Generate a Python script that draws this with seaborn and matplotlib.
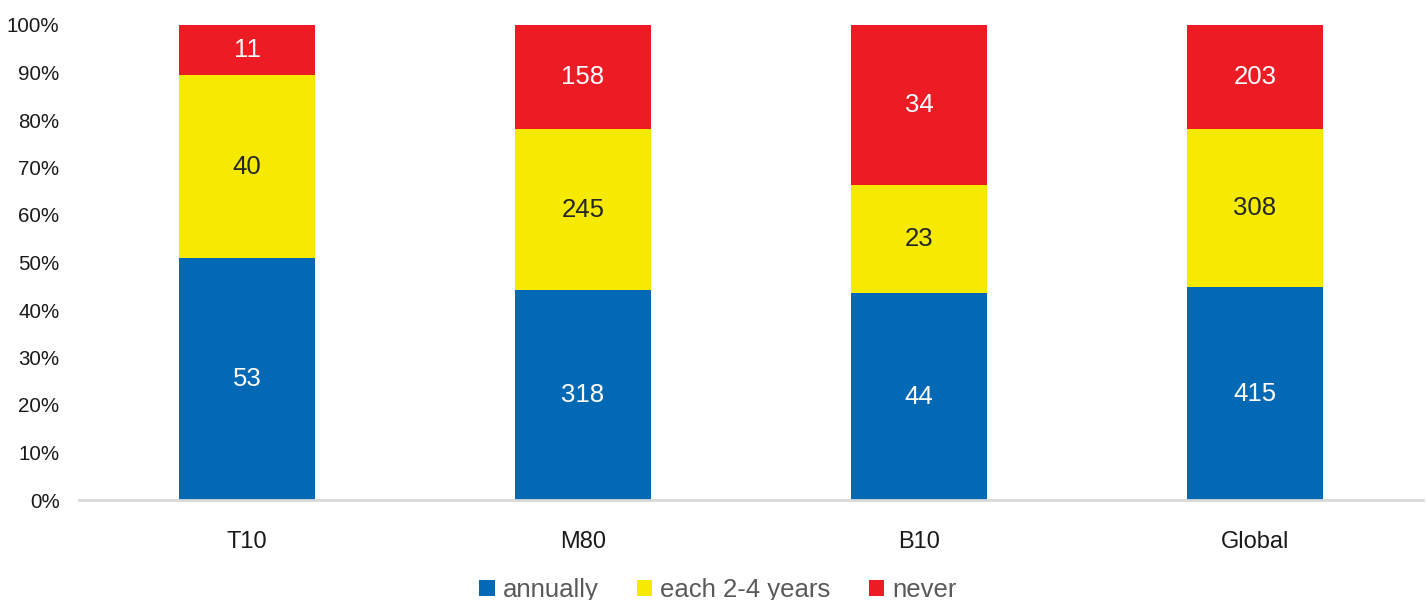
import numpy as np
import pandas as pd
import matplotlib
matplotlib.use("Agg")
import matplotlib.pyplot as plt
import seaborn as sns
from matplotlib.patches import Patch
from matplotlib.ticker import PercentFormatter

categories = ["T10", "M80", "B10", "Global"]
annually = [53, 318, 44, 415]
each_2_4 = [40, 245, 23, 308]
never = [11, 158, 34, 203]
series_names = ["annually", "each 2-4 years", "never"]
colors = ["#0369B4", "#F5EA00", "#ED1C24"]
label_colors = ["white", "#262626", "white"]

sns.set_theme(style="white")
plt.rcParams["font.family"] = ["Liberation Sans", "DejaVu Sans"]

counts = np.array([annually, each_2_4, never], dtype=float)
totals = counts.sum(axis=0)
pct = counts / totals * 100
cum = np.cumsum(pct, axis=0)

fig = plt.figure(figsize=(14.27, 6.0), dpi=100)
ax = fig.add_axes([79 / 1427, 1 - 500 / 600, 1344 / 1427, 475 / 600])

# draw from top segment downwards so each shorter bar covers the lower part
for i in [2, 1, 0]:
    df = pd.DataFrame({"cat": categories, "val": cum[i]})
    sns.barplot(data=df, x="cat", y="val", color=colors[i], width=0.405,
                saturation=1, ax=ax, order=categories, linewidth=0,
                edgecolor="none")

for i in range(3):
    for j in range(len(categories)):
        y = cum[i][j] - pct[i][j] / 2
        ax.text(j, y, f"{int(counts[i][j])}", ha="center", va="center",
                fontsize=18.5, color=label_colors[i])

ax.set_ylim(0, 100)
ax.set_xlim(-0.5, len(categories) - 0.5)
ax.set_yticks(np.arange(0, 101, 10))
ax.yaxis.set_major_formatter(PercentFormatter(decimals=0))
ax.set_xlabel("")
ax.set_ylabel("")
ax.tick_params(axis="y", labelsize=14.8, colors="#1a1a1a", length=0, pad=14)
ax.tick_params(axis="x", labelsize=17, colors="#1a1a1a", length=0, pad=22)
for s in ["top", "right", "left"]:
    ax.spines[s].set_visible(False)
ax.spines["bottom"].set_color("#D9D9D9")
ax.spines["bottom"].set_linewidth(2)

handles = [Patch(facecolor=c, edgecolor="none") for c in colors]
fig.legend(handles, series_names, loc="center", bbox_to_anchor=(0.503, 1 - 590 / 600),
           ncol=3, frameon=False, fontsize=18.5, labelcolor="#595959",
           handlelength=0.6, handleheight=0.6, handletextpad=0.3, columnspacing=1.5)

fig.savefig("out.png", dpi=100)
